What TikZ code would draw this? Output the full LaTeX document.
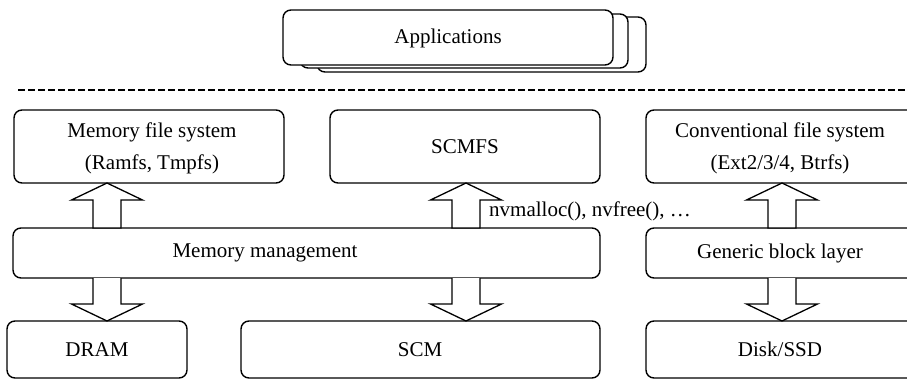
\documentclass[tikz,border=0pt]{standalone}
\usepackage{fontspec}
\setmainfont{Liberation Serif}
\begin{document}
\begin{tikzpicture}[x=1pt,y=-1pt,
  layer/.style={draw, line width=1.4pt, rounded corners=8pt, fill=white},
  lbl/.style={font=\fontsize{21}{32}\selectfont, align=center, inner sep=0pt},
  fat/.style={draw, line width=1.3pt, fill=white, line join=miter}]
\useasboundingbox (0,0) rectangle (907,380);
\clip (0,0) rectangle (907,380);

% stacked application windows
\draw[layer] (317,17) rectangle (646,72);
\draw[layer] (300,14) rectangle (628,68);
\draw[layer] (283,10) rectangle (613,65);
\node[lbl] (apps) at (448,38) {Applications};

% user / kernel boundary
\draw[line width=2.4pt, dash pattern=on 7pt off 3pt] (18,90) -- (907,90);

% file system layer
\draw[layer] (14,110) rectangle (284,183);
\node[lbl] (mfs) at (152,148) {Memory file system\\(Ramfs, Tmpfs)};
\draw[layer] (330,110) rectangle (600,183);
\node[lbl] (scmfs) at (465,146.5) {SCMFS};
\draw[layer] (646,110) rectangle (915,183);
\node[lbl] (cfs) at (780,148) {Conventional file system\\(Ext2/3/4, Btrfs)};

% management layer
\draw[layer] (13,228) rectangle (600,278);
\node[lbl] (mm) at (265,253) {Memory management};
\draw[layer] (646,228) rectangle (915,278);
\node[lbl] (gbl) at (780,253) {Generic block layer};

% devices
\draw[layer] (7,321) rectangle (187,378);
\node[lbl] (dram) at (97,349.5) {DRAM};
\draw[layer] (241,321) rectangle (600,378);
\node[lbl] (scm) at (420,349.5) {SCM};
\draw[layer] (646,321) rectangle (915,378);
\node[lbl] (disk) at (780,349.5) {Disk/SSD};

% hollow block arrows: up arrow (tip at top) and down arrow (tip at bottom)
\newcommand{\uparr}[3]{% x-center, tip y, base y
  \draw[fat] (#1,#2) -- ++(35.5,17) -- ++(-21.5,0) -- (#1+14,#3)
    -- (#1-14,#3) -- (#1-14,#2+17) -- ++(-21.5,0) -- cycle;}
\newcommand{\downarr}[3]{% x-center, base y, tip y
  \draw[fat] (#1-14,#2) -- (#1-14,#3-17) -- ++(-21.5,0) -- (#1,#3)
    -- (#1+35.5,#3-17) -- ++(-21.5,0) -- (#1+14,#2);}

\uparr{107}{183}{228}
\downarr{107}{278}{321}
\uparr{466}{183}{228}
\downarr{466}{278}{321}
\uparr{782}{183}{228}
\downarr{782}{278}{321}

\node[font=\fontsize{21}{25}\selectfont, anchor=west, inner sep=0pt] (api) at (489,211) {nvmalloc(), nvfree(), \dots};
\end{tikzpicture}
\end{document}
